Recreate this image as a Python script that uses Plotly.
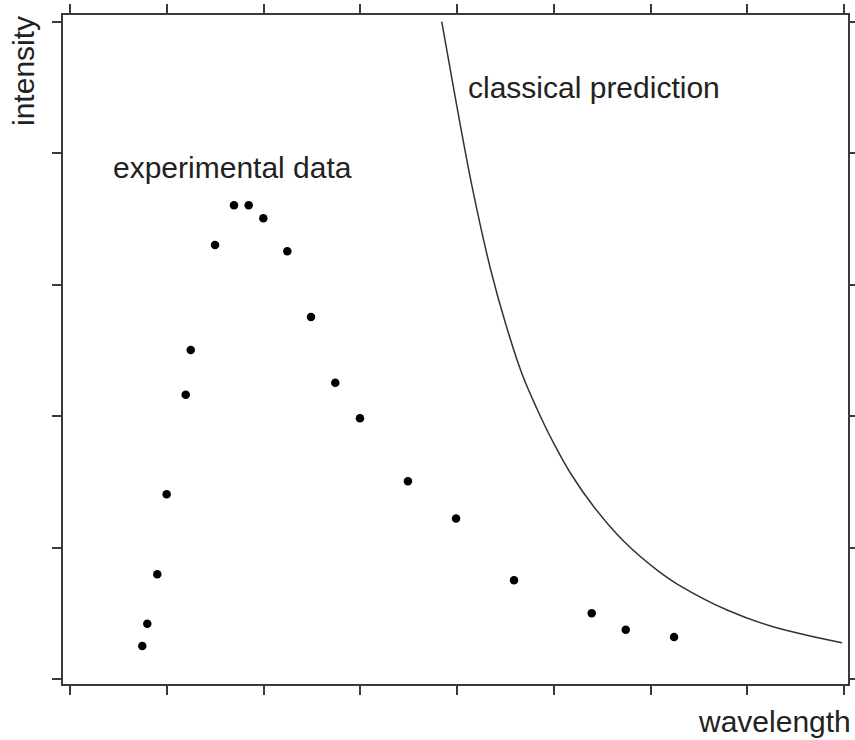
import plotly.graph_objects as go

# experimental data (wavelength, intensity) in axis units
exp_wavelength = [0.747, 0.799, 0.902, 0.999, 1.196, 1.248, 1.499, 1.695, 1.847, 1.998,
                  2.246, 2.491, 2.742, 2.997, 3.493, 3.990, 4.589, 5.392, 5.744, 6.243]
exp_intensity = [0.251, 0.421, 0.797, 1.406, 2.164, 2.504, 3.303, 3.605, 3.605, 3.506,
                 3.255, 2.755, 2.255, 1.984, 1.505, 1.222, 0.751, 0.500, 0.375, 0.319]

# classical prediction curve
cls_wavelength = [3.842, 3.979, 4.152, 4.346, 4.506, 4.672, 4.827, 4.992, 5.178,
                  5.416, 5.726, 6.098, 6.284, 6.791, 7.266, 7.979]
cls_intensity = [5.002, 4.437, 3.760, 3.120, 2.694, 2.321, 2.055, 1.804, 1.560,
                 1.309, 1.046, 0.811, 0.719, 0.525, 0.398, 0.276]

x_ticks = [0, 1, 2, 3, 4, 5, 6, 7, 8]
y_ticks = [0, 1, 2, 3, 4, 5]

FONT = "Liberation Sans, Arial, Helvetica, sans-serif"
AX = "#3a3a3a"
TXT = "#222222"

fig = go.Figure()
fig.add_trace(go.Scatter(
    x=cls_wavelength, y=cls_intensity, mode="lines",
    line=dict(color="#333333", width=1.5, shape="spline", smoothing=1.0),
    hoverinfo="skip", showlegend=False))
fig.add_trace(go.Scatter(
    x=exp_wavelength, y=exp_intensity, mode="markers",
    marker=dict(color="black", size=8.5, line=dict(width=0)),
    showlegend=False))

axis_common = dict(showgrid=False, zeroline=False, showline=True, linecolor=AX,
                   linewidth=1.5, mirror="ticks", ticks="outside", ticklen=9,
                   tickwidth=1.5, tickcolor=AX, showticklabels=False,
                   automargin=False)

fig.update_xaxes(range=[-0.0724, 8.041], tickvals=x_ticks, **axis_common)
fig.update_yaxes(range=[-0.038, 5.053], tickvals=y_ticks, **axis_common)

fig.update_layout(
    width=855, height=740, autosize=False,
    margin=dict(l=63, r=7, t=15, b=56, autoexpand=False),
    plot_bgcolor="white", paper_bgcolor="white",
    font=dict(family=FONT, color=TXT, size=30),
    annotations=[
        dict(text="experimental data", x=0.42, y=3.89, xref="x", yref="y",
             xanchor="left", yanchor="middle", showarrow=False,
             font=dict(size=30, family=FONT, color=TXT)),
        dict(text="classical prediction", x=4.088, y=4.505, xref="x", yref="y",
             xanchor="left", yanchor="middle", showarrow=False,
             font=dict(size=30, family=FONT, color=TXT)),
        dict(text="intensity", x=-0.0497, y=1.0015, xref="paper", yref="paper",
             xanchor="center", yanchor="top", textangle=-90, showarrow=False,
             font=dict(size=30, family=FONT, color=TXT)),
        dict(text="wavelength", x=1.006, y=-0.0568, xref="paper", yref="paper",
             xanchor="right", yanchor="middle", showarrow=False,
             font=dict(size=30, family=FONT, color=TXT)),
    ],
)

fig.write_html(
    "out.html",
    config={"responsive": False, "displayModeBar": False},
    post_script="document.body.style.margin='0';document.body.style.padding='0';"
                "document.body.style.overflow='hidden';",
)
